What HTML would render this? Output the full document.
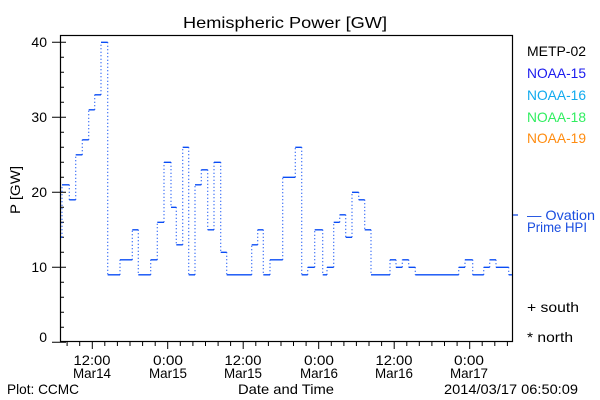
<!DOCTYPE html>
<html><head><meta charset="utf-8"><style>
html,body{margin:0;padding:0;background:#fff;}
svg{display:block;font-family:"Liberation Sans","DejaVu Sans",sans-serif;}
</style></head><body>
<svg id="s" width="600" height="400" viewBox="0 0 600 400" xmlns="http://www.w3.org/2000/svg">
<rect width="600" height="400" fill="#fff"/>
<text x="285" y="28" font-size="16" text-anchor="middle" textLength="204" lengthAdjust="spacingAndGlyphs">Hemispheric Power [GW]</text>
<rect x="60.5" y="35.5" width="452" height="306" fill="none" stroke="#000" stroke-width="1.2"/>
<g id="ticks" stroke="#000" stroke-width="1"></g>
<g font-size="14" text-anchor="end">
<text x="47" y="47">40</text>
<text x="47" y="122">30</text>
<text x="47" y="197">20</text>
<text x="47" y="272">10</text>
<text x="47" y="342">0</text>
</g>
<text transform="translate(20,190) rotate(-90)" font-size="14" text-anchor="middle" textLength="48" lengthAdjust="spacingAndGlyphs">P [GW]</text>
<g font-size="14" text-anchor="middle">
<text x="92" y="365" textLength="37" lengthAdjust="spacingAndGlyphs">12:00</text><text x="92" y="378" textLength="38" lengthAdjust="spacingAndGlyphs">Mar14</text>
<text x="168" y="365" textLength="30" lengthAdjust="spacingAndGlyphs">0:00</text><text x="168" y="378" textLength="38" lengthAdjust="spacingAndGlyphs">Mar15</text>
<text x="243" y="365" textLength="37" lengthAdjust="spacingAndGlyphs">12:00</text><text x="243" y="378" textLength="38" lengthAdjust="spacingAndGlyphs">Mar15</text>
<text x="319" y="365" textLength="30" lengthAdjust="spacingAndGlyphs">0:00</text><text x="319" y="378" textLength="38" lengthAdjust="spacingAndGlyphs">Mar16</text>
<text x="394" y="365" textLength="37" lengthAdjust="spacingAndGlyphs">12:00</text><text x="394" y="378" textLength="38" lengthAdjust="spacingAndGlyphs">Mar16</text>
<text x="469" y="365" textLength="30" lengthAdjust="spacingAndGlyphs">0:00</text><text x="469" y="378" textLength="38" lengthAdjust="spacingAndGlyphs">Mar17</text>
</g>
<text x="7" y="394" font-size="14" textLength="72" lengthAdjust="spacingAndGlyphs">Plot: CCMC</text>
<text x="286" y="394" font-size="14" text-anchor="middle" textLength="96" lengthAdjust="spacingAndGlyphs">Date and Time</text>
<text x="444" y="394" font-size="14" textLength="134" lengthAdjust="spacingAndGlyphs">2014/03/17 06:50:09</text>
<g font-size="14">
<text x="527" y="56" fill="#000" textLength="59" lengthAdjust="spacingAndGlyphs">METP-02</text>
<text x="527" y="78" fill="#1a1aee" textLength="59" lengthAdjust="spacingAndGlyphs">NOAA-15</text>
<text x="527" y="100" fill="#10aaee" textLength="59" lengthAdjust="spacingAndGlyphs">NOAA-16</text>
<text x="527" y="122" fill="#30ee60" textLength="59" lengthAdjust="spacingAndGlyphs">NOAA-18</text>
<text x="527" y="143" fill="#ff8c10" textLength="59" lengthAdjust="spacingAndGlyphs">NOAA-19</text>
<text x="527" y="220" fill="#1a4ee0" textLength="68" lengthAdjust="spacingAndGlyphs">— Ovation</text>
<text x="527" y="232" fill="#1a4ee0" textLength="60" lengthAdjust="spacingAndGlyphs">Prime HPI</text>
<text x="527" y="312" fill="#000" textLength="52" lengthAdjust="spacingAndGlyphs">+ south</text>
<text x="527" y="342" fill="#000" textLength="46" lengthAdjust="spacingAndGlyphs">* north</text>
</g>
<line x1="513" y1="215" x2="518" y2="215" stroke="#1a4ee0" stroke-width="1.3"/>
<g id="data"></g>
</svg>
<script>
var ns="http://www.w3.org/2000/svg";
function Y(v){return 42.3+(40-v)*7.5;}
var st=[[61,14],[62,21],[69.3,19],[75.7,25],[82.3,27],[88.7,31],[94.7,33],[101,40],[107.7,9],[120,11],[132.3,15],[138.3,9],[150.7,11],[157.3,16],[164,24],[171,18],[176.3,13],[182.7,26],[188.7,9],[195,21],[201.3,23],[207.7,15],[214,24],[220.7,12],[226.7,9],[251.7,13],[257.7,15],[263.3,9],[270,11],[282.7,22],[295.3,26],[301.7,9],[307.7,10],[314.7,15],[322.7,9],[327,10],[333.7,16],[339.7,17],[345.7,14],[352,20],[358.7,19],[364.7,15],[371,9],[390,11],[396,10],[402.3,11],[408.7,10],[415.3,9],[458.7,10],[465,11],[472.7,9],[483.7,10],[489.7,11],[496,10],[508.7,9]];
var end=512,h="",v="";
for(var i=0;i<st.length;i++){
 var x0=st[i][0],x1=(i+1<st.length?st[i+1][0]:end),y=Y(st[i][1]);
 h+="M"+x0+" "+y+"H"+x1;
 if(i+1<st.length){v+="M"+x1+" "+y+"V"+Y(st[i+1][1]);}
}
var d=document.getElementById("data");
var p1=document.createElementNS(ns,"path");p1.setAttribute("d",h);p1.setAttribute("stroke","#0a4cf5");p1.setAttribute("stroke-width","1.3");p1.setAttribute("fill","none");d.appendChild(p1);
var p2=document.createElementNS(ns,"path");p2.setAttribute("d",v);p2.setAttribute("stroke","#0a4cf5");p2.setAttribute("stroke-width","1.2");p2.setAttribute("stroke-dasharray","1 2.5");p2.setAttribute("fill","none");d.appendChild(p2);
var t=document.getElementById("ticks"),s="";
for(var k=0;k<=20;k++){var y=Y(k*2);var maj=(k%5==0);s+="M"+(maj?52:60)+" "+y+"H"+(maj?66:64);}
for(var k=0;;k++){var xx=67.1+k*12.58;if(xx>512)break;var maj=((k-2)%6==0);s+="M"+xx.toFixed(1)+" 341V"+(maj?349:346);}
var p3=document.createElementNS(ns,"path");p3.setAttribute("d",s);t.appendChild(p3);
</script>
</body></html>
